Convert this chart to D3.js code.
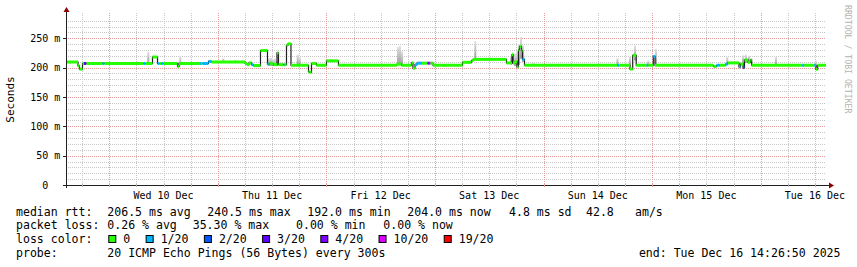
<!DOCTYPE html>
<html><head><meta charset="utf-8">
<script src="https://cdn.jsdelivr.net/npm/d3@7"></script>
<style>
body{margin:0;background:#fff}
svg{display:block}
text{font-family:"DejaVu Sans Mono",monospace}
</style>
</head><body>
<svg id="c" width="857" height="267"></svg>
<script>
// ---------- data ----------
const startTime = new Date(2025, 11, 9, 14, 26, 50);
const endTime   = new Date(2025, 11, 16, 14, 26, 50);

// median rtt as steps: hours after startTime, median (ms), lost pings of 20
const stepHours = [0,2.65,2.98,3.65,3.98,4.53,8.07,8.51,17.13,17.57,
  19.12,20.23,20.67,21.11,21.55,24.65,24.98,29.62,29.84,30.17,
  31.5,32.16,39.57,40.01,40.45,41.0,41.45,42.99,44.54,44.76,
  44.98,45.76,45.98,46.64,46.97,48.03,48.3,48.74,49.07,49.73,
  53.6,53.82,54.27,55.37,57.58,60.23,73.16,74.16,76.37,76.7,
  77.14,77.59,78.69,79.91,80.24,80.57,81.12,87.64,89.63,89.96,
  97.37,98.36,98.59,98.81,99.25,99.69,100.02,100.24,100.69,100.91,
  101.35,121.86,122.3,124.67,125.27,126.05,128.36,128.71,129.82,130.2,
  143.13,143.79,144.56,145.82,146.26,148.76,149.09,149.65,149.98,150.75,
  151.3,151.57,162.75,163.19,165.4,165.78,166.16];
const stepMedian = [209.5,203,197.5,207,207,207,207,207,207,207,
  218,207,207,207,207,202,207,207,207,207,
  210.5,209.5,207,205,208,205,203.5,229,206,206,
  207,205,205,225,205,205,205,238,240.5,204,
  193,192,207,204,211.5,204,206,204,208,199,
  205,207.5,207.5,207.5,207.5,207.5,204,209,212,214,
  208,207,222,208,210,201,230,236,229,214,
  204,204,204,197.5,221,204,204,204,219,204,
  202,204,204,206,208,201,206,200,213,209,
  213,204,204,204,204,197,204];
const stepLoss = [0,0,0,0,3,0,1,0,1,0,
  0,1,0,1,0,0,0,1,0,1,
  1,0,0,0,0,1,0,0,0,1,
  0,1,0,0,0,1,0,0,0,0,
  0,0,0,0,0,0,0,0,0,0,
  1,1,0,4,10,0,0,0,0,0,
  0,0,0,0,0,0,0,0,0,1,
  0,1,0,0,0,0,1,0,1,0,
  0,1,0,1,0,1,0,2,0,0,
  0,0,1,0,1,0,0];

// smoke (ping spread): hours after startTime, low (ms), high (ms)
const smokeHours = [0.73,17.97,25.04,34.55,37.2,44.65,45.09,45.53,45.96,46.42,
  51.0,51.44,73.16,73.6,74.05,90.25,98.14,98.59,99.03,99.47,99.91,100.35,100.8,
  103.07,121.68,124.45,125.55,128.49,130.2,145.95,149.43,150.09,150.75,156.72,165.56];
const smokeLow = [207,207,204,209,209,203,203,203,203,203,
  205,205,205,205,204,213,206,208,203,202,205,215,210,
  204,204,204,212,204,205,206,206,208,208,204,200];
const smokeHigh = [212,227,218,216,213,216,217,214,215,212,
  222,218,235,237,228,245,220,226,224,228,240,252,238,
  208,216,218,238,212,232,218,221,222,220,218,212];

const yTickValues = [0,50,100,150,200,250];
const yTickLabels = ["0","50","100","150","200","250"];

const lossLevels = [0,1,2,3,4,10,19];
const lossLabels = ["0","1/20","2/20","3/20","4/20","10/20","19/20"];
const lossColors = ["#26ff00","#00b8ff","#0059ff","#5e00ff","#7e00ff","#dd00ff","#ff0000"];

const medianStats = ["206.5 ms avg","240.5 ms max","192.0 ms min","204.0 ms now","4.8 ms sd","42.8","am/s"];
const lossStats = ["0.26 % avg","35.30 % max","0.00 % min","0.00 % now"];
const probeText = "20 ICMP Echo Pings (56 Bytes) every 300s";
const endText = "end: Tue Dec 16 14:26:50 2025";

// ---------- layout ----------
const L = 66, R = 826, T = 13, B = 185;
const svg = d3.select("#c");
const x = d3.scaleTime().domain([startTime, endTime]).range([L, R]);
const y = d3.scaleLinear().domain([0, 293]).range([B, T]);
const hToDate = h => new Date(startTime.getTime() + h * 3600e3);
const colorOf = l => lossColors[lossLevels.indexOf(l)];
const px = v => Math.round(v) + 0.5;

const defs = svg.append("defs");
const g = defs.append("linearGradient").attr("id","smoke").attr("x1",0).attr("y1",0).attr("x2",0).attr("y2",1);
g.append("stop").attr("offset","0%").attr("stop-color","#e2e2e2");
g.append("stop").attr("offset","100%").attr("stop-color","#9c9c9c");

// grid
const grid = svg.append("g");
const minorY = d3.range(10, 290, 10).filter(v => v % 50 !== 0);
grid.selectAll(".hy").data(minorY).join("line")
  .attr("x1", L).attr("x2", R).attr("y1", d => px(y(d))).attr("y2", d => px(y(d)))
  .attr("stroke", "#c8c8c8").attr("stroke-dasharray", "1,1");
const hours6 = d3.timeHour.every(6).range(startTime, endTime).filter(d => d.getHours() !== 0);
grid.selectAll(".vx").data(hours6).join("line")
  .attr("x1", d => px(x(d))).attr("x2", d => px(x(d))).attr("y1", T).attr("y2", B)
  .attr("stroke", "#c8c8c8").attr("stroke-dasharray", "1,1");
const majorY = yTickValues.filter(v => v > 0);
grid.selectAll(".my").data(majorY).join("line")
  .attr("x1", L).attr("x2", R).attr("y1", d => px(y(d))).attr("y2", d => px(y(d)))
  .attr("stroke", "#e59a9a").attr("stroke-dasharray", "1,1");
const days = d3.timeDay.range(startTime, endTime);
grid.selectAll(".mx").data(days).join("line")
  .attr("x1", d => px(x(d))).attr("x2", d => px(x(d))).attr("y1", T).attr("y2", B)
  .attr("stroke", "#e59a9a").attr("stroke-dasharray", "1,1");

// smoke
const smokeW = x(hToDate(0.45)) - x(hToDate(0));
svg.append("g").selectAll("rect").data(smokeHours).join("rect")
  .attr("x", (d) => x(hToDate(d)))
  .attr("width", smokeW)
  .attr("y", (d, i) => y(smokeHigh[i]))
  .attr("height", (d, i) => y(smokeLow[i]) - y(smokeHigh[i]))
  .attr("fill", "url(#smoke)");

// median line (dark step line under colored bands)
const pts = stepHours.map((h, i) => [x(hToDate(h)), y(stepMedian[i])]);
pts.push([x(endTime), y(stepMedian[stepMedian.length - 1])]);
svg.append("path")
  .attr("d", d3.line().curve(d3.curveStepAfter)(pts))
  .attr("fill", "none").attr("stroke", "#202020").attr("stroke-width", 1.2);

svg.append("g").selectAll("rect").data(stepHours).join("rect")
  .attr("x", (d) => x(hToDate(d)))
  .attr("width", (d, i) => (i + 1 < stepHours.length ? x(hToDate(stepHours[i + 1])) : x(endTime)) - x(hToDate(d)))
  .attr("y", (d, i) => y(stepMedian[i]) - 1.5)
  .attr("height", 3)
  .attr("fill", (d, i) => colorOf(stepLoss[i]));

// axes
const axisColor = "#202020", arrowColor = "#8b0000";
svg.append("line").attr("x1", L - 3).attr("x2", R + 3).attr("y1", B + 0.5).attr("y2", B + 0.5)
  .attr("stroke", axisColor);
svg.append("path").attr("d", `M${R+3},${B-2.5}L${R+8},${B+0.5}L${R+3},${B+3.5}Z`).attr("fill", arrowColor);
svg.append("line").attr("x1", L + 0.5).attr("x2", L + 0.5).attr("y1", B + 3).attr("y2", T - 1)
  .attr("stroke", axisColor);
svg.append("path").attr("d", `M${L-2.5},${T-1}L${L+0.5},${T-6}L${L+3.5},${T-1}Z`).attr("fill", arrowColor);

// ticks
svg.append("g").selectAll("line").data(yTickValues).join("line")
  .attr("x1", L - 3).attr("x2", L).attr("y1", d => px(y(d))).attr("y2", d => px(y(d)))
  .attr("stroke", axisColor);
svg.append("g").selectAll("line").data(hours6).join("line")
  .attr("x1", d => px(x(d))).attr("x2", d => px(x(d))).attr("y1", B - 1).attr("y2", B + 2)
  .attr("stroke", "#b0b0b0");
svg.append("g").selectAll("line").data(days).join("line")
  .attr("x1", d => px(x(d))).attr("x2", d => px(x(d))).attr("y1", B - 1).attr("y2", B + 2)
  .attr("stroke", "#e59a9a");

// y labels
const yl = svg.append("g").attr("font-size", "10px").attr("fill", "#000");
yl.selectAll(".n").data(yTickValues).join("text")
  .attr("x", 48.2).attr("y", d => y(d) + 3.6).attr("text-anchor", "end")
  .text((d, i) => yTickLabels[i]);
yl.selectAll(".u").data(yTickValues.filter(v => v > 0)).join("text")
  .attr("x", 54.2).attr("y", d => y(d) + 3.6).text("m");

// x labels at noon
const noons = days.map(d => d3.timeHour.offset(d, 12)).filter(d => d > startTime && d < endTime);
const fmt = d3.timeFormat("%a %d %b");
svg.append("g").attr("font-size", "10px").selectAll("text").data(noons).join("text")
  .attr("x", d => x(d)).attr("y", 198.5).attr("text-anchor", "middle").text(d => fmt(d));

// y title
svg.append("text").attr("transform", "translate(14,99.5) rotate(-90)")
  .attr("text-anchor", "middle").attr("font-size", "11px").text("Seconds");

// watermark
svg.append("text").attr("transform", "translate(844.5,5) rotate(90)")
  .attr("font-size", "8.2px").attr("fill", "#b4b4b4").text("RRDTOOL / TOBI OETIKER");

// legend
const lg = svg.append("g").attr("font-size", "11.55px").attr("fill", "#000").attr("xml:space", "preserve");
const cw = 6.955;
const colX = 107.3;
const row1 = 215.5, row2 = 229, row3 = 243, row4 = 256.5;
lg.append("text").attr("x", 16).attr("y", row1).text("median rtt:");
const medX = [107.3, 207.3, 307.3, 407.3, 509, 586, 635];
medianStats.forEach((s, i) => lg.append("text").attr("x", medX[i]).attr("y", row1).text(s));
lg.append("text").attr("x", 16).attr("y", row2).text("packet loss:");
const lossX = [107.3, 192.7, 296, 383.3];
lossStats.forEach((s, i) => lg.append("text").attr("x", lossX[i]).attr("y", row2).text(s));
lg.append("text").attr("x", 16).attr("y", row3).text("loss color:");
let bx = 108.3;
lossLabels.forEach((s, i) => {
  lg.append("rect").attr("x", bx + 0.5).attr("y", row3 - 7.5).attr("width", 7).attr("height", 7)
    .attr("fill", lossColors[i]).attr("stroke", "#000");
  lg.append("text").attr("x", bx + 15).attr("y", row3).text(s);
  bx = bx + 15 + s.length * cw + 15.4;
});
lg.append("text").attr("x", 16).attr("y", row4).text("probe:");
lg.append("text").attr("x", colX).attr("y", row4).text(probeText);
lg.append("text").attr("x", 840.5).attr("y", row4).attr("text-anchor", "end").text(endText);
</script>
</body></html>
